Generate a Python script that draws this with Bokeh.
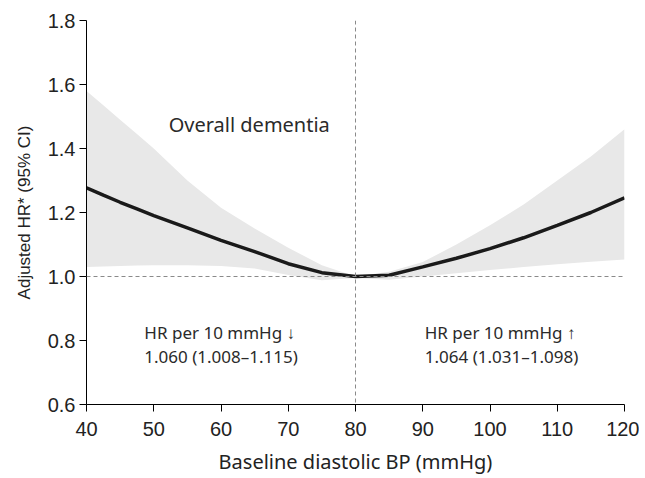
from bokeh.plotting import figure
from bokeh.models import Span, Label, FixedTicker, Range1d
from bokeh.embed import file_html
from bokeh.resources import INLINE

# Data
bp = [40, 42.5, 45, 47.5, 50, 55, 60, 65, 70, 75, 80, 85, 90, 95, 100, 105, 110, 115, 120]
hr = [1.277, 1.254, 1.232, 1.211, 1.19, 1.152, 1.113, 1.078, 1.04, 1.012, 1.0, 1.004,
      1.03, 1.057, 1.087, 1.121, 1.16, 1.2, 1.246]
ci_upper = [1.58, 1.535, 1.49, 1.445, 1.40, 1.30, 1.215, 1.15, 1.09, 1.035, 1.0, 1.015,
            1.045, 1.10, 1.16, 1.225, 1.30, 1.375, 1.46]
ci_lower = [1.03, 1.031, 1.033, 1.034, 1.035, 1.035, 1.033, 1.025, 1.005, 0.988, 0.995, 0.99,
            1.0, 1.01, 1.02, 1.03, 1.038, 1.046, 1.053]
x_ticks = [40, 50, 60, 70, 80, 90, 100, 110, 120]
y_ticks = [0.6, 0.8, 1.0, 1.2, 1.4, 1.6, 1.8]
title_text = "Overall dementia"
left_note = ["HR per 10 mmHg \u2193", "1.060 (1.008\u20131.115)"]
right_note = ["HR per 10 mmHg \u2191", "1.064 (1.031\u20131.098)"]
ref_x = 80
ref_y = 1.0

p = figure(width=639, height=477, output_backend="svg", toolbar_location=None,
           x_range=Range1d(40, 120), y_range=Range1d(0.6, 1.8),
           min_border_left=86, min_border_right=15, min_border_top=20, min_border_bottom=72)
p.outline_line_color = None
p.grid.visible = False
p.background_fill_color = "white"
p.border_fill_color = "white"

p.varea(x=bp, y1=ci_lower, y2=ci_upper, fill_color="#e8e8e8", fill_alpha=1.0)

p.add_layout(Span(location=ref_y, dimension="width", line_color="#8a8a8a",
                  line_dash="4 3", line_width=1))
p.add_layout(Span(location=ref_x, dimension="height", line_color="#8a8a8a",
                  line_dash="4 3", line_width=1))

p.line(bp, hr, line_color="#1a1a1a", line_width=3.5)

for ax in (p.xaxis[0], p.yaxis[0]):
    ax.axis_line_color = "black"
    ax.axis_line_width = 1
    ax.major_tick_line_color = "black"
    ax.major_tick_out = 7
    ax.major_tick_in = 0
    ax.minor_tick_line_color = None
    ax.major_label_text_font = "Liberation Sans"
    ax.major_label_text_font_size = "20px"
    ax.major_label_text_color = "#222222"
    ax.axis_label_text_font_style = "normal"
    ax.axis_label_text_color = "#222222"

p.xaxis.ticker = FixedTicker(ticks=x_ticks)
p.yaxis.ticker = FixedTicker(ticks=y_ticks)
p.yaxis.major_label_overrides = {v: f"{v:.1f}" for v in y_ticks}
p.xaxis.major_label_standoff = 10
p.yaxis.major_label_standoff = 4

p.xaxis.axis_label = "Baseline diastolic BP (mmHg)"
p.xaxis.axis_label_text_font = "Noto Sans"
p.xaxis.axis_label_text_font_size = "20px"
p.xaxis.axis_label_standoff = 9

p.yaxis.axis_label = "Adjusted HR* (95% CI)"
p.yaxis.axis_label_text_font = "Liberation Sans"
p.yaxis.axis_label_text_font_size = "17px"
p.yaxis.axis_label_standoff = 11

p.add_layout(Label(x=64.2, y=1.476, text=title_text, text_align="center",
                   text_baseline="middle", text_font="Noto Sans",
                   text_font_size="20px", text_color="#2a2a2a"))

for note, x0 in ((left_note, 48.6), (right_note, 90.3)):
    p.add_layout(Label(x=x0, y=0.825, text=note[0], text_align="left",
                       text_baseline="middle", text_font="Noto Sans",
                       text_font_size="17px", text_color="#2a2a2a"))
    p.add_layout(Label(x=x0, y=0.75, text=note[1], text_align="left",
                       text_baseline="middle", text_font="Noto Sans",
                       text_font_size="17px", text_color="#2a2a2a"))

open("out.html", "w").write(file_html(p, INLINE))
